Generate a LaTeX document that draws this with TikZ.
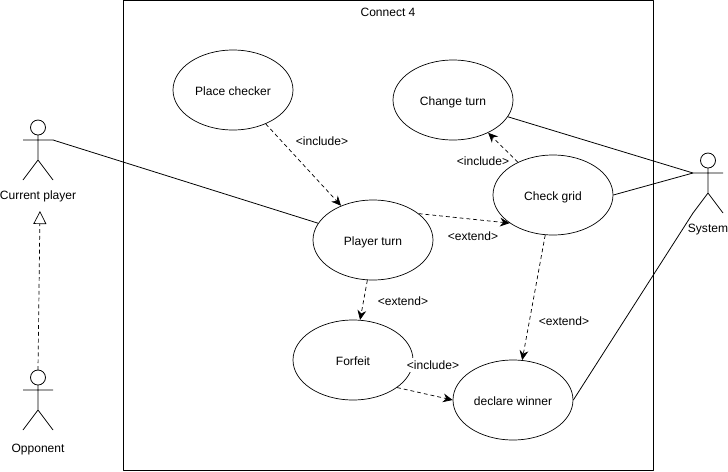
\documentclass[tikz,border=0pt]{standalone}
\usepackage{fontspec}
\setmainfont{Liberation Sans}
\usetikzlibrary{arrows.meta,shapes.geometric}
\tikzset{
	usecase/.style={draw, ellipse, minimum width=120*0.02cm, minimum height=80*0.02cm, inner sep=0pt, text height=6.2pt, text depth=0pt},
	lbl/.style={inner sep=0pt, text height=5.2pt, text depth=0pt},
	assoc/.style={draw, line width=0.45pt},
	dep/.style={draw, dashed, dash pattern=on 2.2pt off 1.7pt, line width=0.4pt, -{Stealth[length=5.5pt,width=5pt]}},
	gen/.style={draw, dashed, dash pattern=on 2.2pt off 1.7pt, line width=0.4pt, -{Triangle[open,length=7.4pt,width=7.4pt]}}
}
% one stick figure, #1 = name, #2 = x, #3 = y of the top of the head
\newcommand{\stickman}[3]{
	\draw[line width=0.45pt] (#2,#3+7.5) circle (7.5*0.02cm);
	\draw[line width=0.45pt] (#2,#3+15)--(#2,#3+40) (#2-15,#3+20)--(#2+15,#3+20)
	(#2-15,#3+60)--(#2,#3+40)--(#2+15,#3+60);
	\coordinate (#1top) at (#2,#3);
	\coordinate (#1arm) at (#2+15,#3+20);
	\coordinate (#1larm) at (#2-15,#3+20);
	\coordinate (#1foot) at (#2-15,#3+60);
}
\begin{document}
\begin{tikzpicture}[x=0.02cm, y=-0.02cm, font=\fontsize{6.85pt}{8pt}\selectfont, line join=round, line cap=butt]
	\useasboundingbox (0,0) rectangle (728,471);
	\node[draw, line width=0.45pt, minimum width=530*0.02cm, minimum height=470*0.02cm, inner sep=0pt] (boundary) at (388,235) {};
	\node[lbl] (title) at (388,12) {Connect 4};
	% use cases
	\node[usecase] (place) at (233,90) {Place checker};
	\node[usecase] (change) at (453,100) {Change turn};
	\node[usecase] (check) at (553,195) {Check grid};
	\node[usecase] (turn) at (373,240) {Player turn};
	\node[usecase] (forfeit) at (353,360) {Forfeit};
	\node[usecase] (winner) at (513,400) {declare winner};
	% actors
	\stickman{cur}{38}{120}
	\stickman{opp}{38}{370}
	\stickman{sys}{708}{153}
	\coordinate (gentip) at (40,211);
	\node[lbl] (curlbl) at (38,195) {Current player};
	\node[lbl] (opplbl) at (38,448) {Opponent};
	\node[lbl] (syslbl) at (708,228) {System};
	% associations
	\draw[assoc] (curarm)--(turn.163);
	\draw[assoc] (change.-17)--(syslarm);
	\draw[assoc] (check.0)--(syslarm);
	\draw[assoc] (winner.0)--(sysfoot);
	% include and extend
	\draw[dep] (place.-46)--(turn.133);
	\draw[dep] (check.137)--(change.-43);
	\draw[dep] (turn.30)--(check.-147);
	\draw[dep] (check.-101)--(winner.77);
	\draw[dep] (turn.-98)--(forfeit.80);
	\draw[dep] (forfeit.-32)--(winner.180);
	\draw[gen] (opptop)--(gentip);
	% labels
	\node[lbl] (l1) at (322,141) {<include>};
	\node[lbl] (l2) at (483,161) {<include>};
	\node[lbl] (l3) at (473,236) {<extend>};
	\node[lbl] (l4) at (403,301) {<extend>};
	\node[lbl] (l5) at (564,321) {<extend>};
	\node[lbl, fill=white, inner ysep=1.5pt] (l6) at (433,365) {<include>};
\end{tikzpicture}
\end{document}
